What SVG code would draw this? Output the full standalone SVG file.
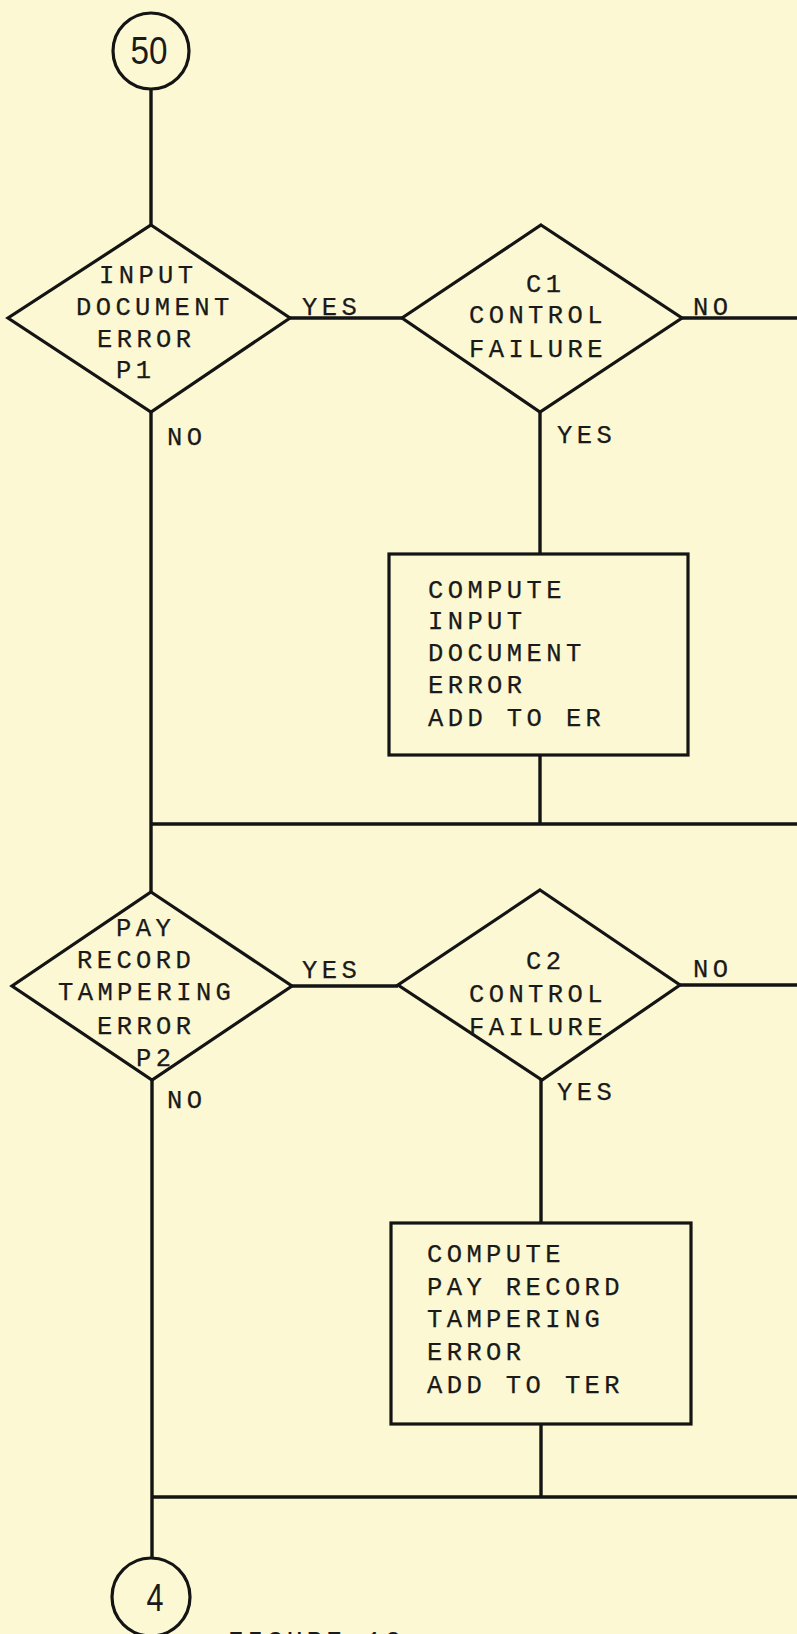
<svg xmlns="http://www.w3.org/2000/svg" width="797" height="1634" viewBox="0 0 797 1634">
<style>
.bg{fill:#fcf8d4}
.shp{fill:none;stroke:#141414;stroke-width:3.2;stroke-linejoin:miter}
.ln{fill:none;stroke:#141414;stroke-width:3.4}
.tw{font-family:"Liberation Mono","DejaVu Sans Mono",monospace;font-size:25.5px;letter-spacing:4.4px;fill:#1a1a1a;stroke:#1a1a1a;stroke-width:0.25}
.hand{font-family:"Liberation Sans","DejaVu Sans",sans-serif;font-size:39px;fill:#1a1a1a}
</style>
<rect class="bg" x="0" y="0" width="797" height="1634"/>
<g id="connectors">
<line class="ln" x1="151" y1="89" x2="151" y2="225"/>
<line class="ln" x1="290" y1="318" x2="402" y2="318"/>
<line class="ln" x1="682" y1="318" x2="797" y2="318"/>
<line class="ln" x1="540" y1="412" x2="540" y2="554"/>
<line class="ln" x1="540" y1="755" x2="540" y2="824"/>
<line class="ln" x1="151" y1="824" x2="797" y2="824"/>
<line class="ln" x1="151" y1="412" x2="151" y2="892"/>
<line class="ln" x1="292" y1="986" x2="398" y2="986"/>
<line class="ln" x1="680" y1="985" x2="797" y2="985"/>
<line class="ln" x1="541" y1="1080" x2="541" y2="1223"/>
<line class="ln" x1="541" y1="1424" x2="541" y2="1497"/>
<line class="ln" x1="152" y1="1497" x2="797" y2="1497"/>
<line class="ln" x1="152" y1="1080" x2="152" y2="1558"/>
<text class="tw" x="302" y="315">YES</text>
<text class="tw" x="167" y="445">NO</text>
<text class="tw" x="693" y="315">NO</text>
<text class="tw" x="557" y="443">YES</text>
<text class="tw" x="302" y="978">YES</text>
<text class="tw" x="167" y="1108">NO</text>
<text class="tw" x="693" y="977">NO</text>
<text class="tw" x="557" y="1100">YES</text>
</g>
<g id="start50">
<circle class="shp" cx="151" cy="51" r="38"/>
<text class="hand" x="149" y="64" text-anchor="middle" textLength="37" lengthAdjust="spacingAndGlyphs">50</text>
</g>
<g id="p1">
<polygon class="shp" points="151,225 290,318 151,412 8,318"/>
<text class="tw" x="99" y="283">INPUT</text>
<text class="tw" x="76" y="315">DOCUMENT</text>
<text class="tw" x="97" y="347">ERROR</text>
<text class="tw" x="116" y="378">P1</text>
</g>
<g id="c1">
<polygon class="shp" points="541,225 682,318 540,412 402,318"/>
<text class="tw" x="526" y="292">C1</text>
<text class="tw" x="469" y="323">CONTROL</text>
<text class="tw" x="469" y="357">FAILURE</text>
</g>
<g id="box1">
<rect class="shp" x="389" y="554" width="299" height="201"/>
<text class="tw" x="428" y="598">COMPUTE</text>
<text class="tw" x="428" y="629">INPUT</text>
<text class="tw" x="428" y="661">DOCUMENT</text>
<text class="tw" x="428" y="693">ERROR</text>
<text class="tw" x="428" y="726">ADD TO ER</text>
</g>
<g id="p2">
<polygon class="shp" points="151,892 292,986 152,1080 12,986"/>
<text class="tw" x="116" y="936">PAY</text>
<text class="tw" x="77" y="968">RECORD</text>
<text class="tw" x="58" y="1000">TAMPERING</text>
<text class="tw" x="97" y="1034">ERROR</text>
<text class="tw" x="136" y="1066">P2</text>
</g>
<g id="c2">
<polygon class="shp" points="540,890 680,985 542,1080 398,985"/>
<text class="tw" x="526" y="969">C2</text>
<text class="tw" x="469" y="1002">CONTROL</text>
<text class="tw" x="469" y="1035">FAILURE</text>
</g>
<g id="box2">
<rect class="shp" x="391" y="1223" width="300" height="201"/>
<text class="tw" x="427" y="1262">COMPUTE</text>
<text class="tw" x="427" y="1295">PAY RECORD</text>
<text class="tw" x="427" y="1327">TAMPERING</text>
<text class="tw" x="427" y="1360">ERROR</text>
<text class="tw" x="427" y="1393">ADD TO TER</text>
</g>
<g id="end4">
<circle class="shp" cx="151" cy="1597" r="39"/>
<text class="hand" x="155" y="1611" text-anchor="middle" textLength="17" lengthAdjust="spacingAndGlyphs">4</text>
</g>
<g id="caption">
<text class="tw" x="228" y="1649">FIGURE 10</text>
</g>
</svg>
